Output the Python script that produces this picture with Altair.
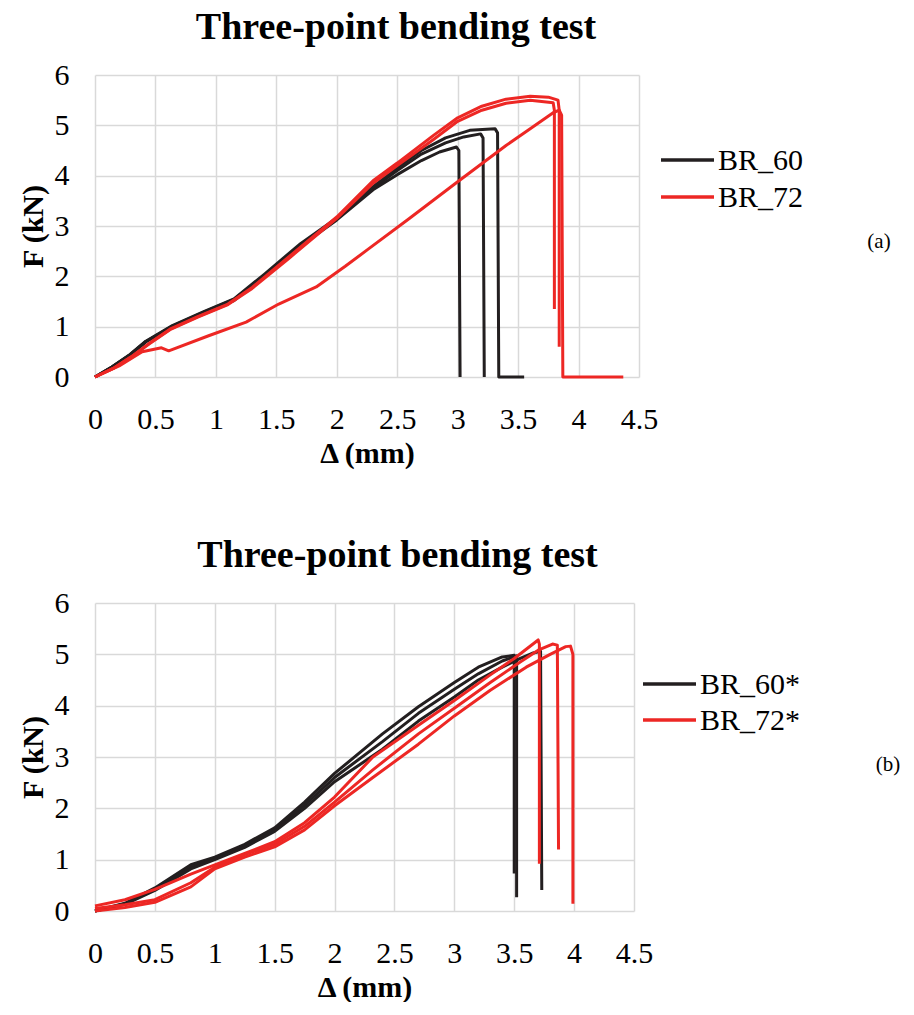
import altair as alt
import pandas as pd

TITLE = "Three-point bending test"
X_TITLE = "Δ (mm)"
Y_TITLE = "F (kN)"
X_TICKS = [0, 0.5, 1, 1.5, 2, 2.5, 3, 3.5, 4, 4.5]
Y_TICKS = [0, 1, 2, 3, 4, 5, 6]
SERIES_A = ["BR_60", "BR_72"]
SERIES_B = ["BR_60*", "BR_72*"]
TAGS = ["(a)", "(b)"]
COLORS = ["#231f20", "#ed2724"]

# ---------------- panel (a) ----------------
A60_1_X = [0, 0.14, 0.28, 0.42, 0.64, 0.9, 1.15, 1.4, 1.7, 2.0, 2.3, 2.5, 2.7, 2.85, 2.99, 3.01, 3.02]
A60_1_Y = [0, 0.2, 0.42, 0.7, 1.0, 1.28, 1.52, 2.0, 2.6, 3.12, 3.72, 4.02, 4.3, 4.47, 4.57, 4.5, 0]
A60_2_X = [0, 0.14, 0.28, 0.42, 0.64, 0.9, 1.15, 1.4, 1.7, 2.0, 2.3, 2.5, 2.7, 2.9, 3.05, 3.19, 3.21, 3.22]
A60_2_Y = [0, 0.2, 0.42, 0.7, 1.01, 1.29, 1.54, 2.02, 2.62, 3.14, 3.75, 4.1, 4.43, 4.65, 4.77, 4.83, 4.75, 0]
A60_3_X = [0, 0.14, 0.28, 0.42, 0.64, 0.9, 1.15, 1.4, 1.7, 2.0, 2.3, 2.5, 2.7, 2.9, 3.1, 3.31, 3.33, 3.34, 3.55]
A60_3_Y = [0, 0.2, 0.43, 0.71, 1.02, 1.3, 1.55, 2.04, 2.65, 3.16, 3.78, 4.15, 4.5, 4.75, 4.9, 4.93, 4.85, 0, 0]
A72_1_X = [0, 0.15, 0.3, 0.45, 0.62, 0.85, 1.1, 1.3, 1.6, 2.0, 2.3, 2.5, 2.8, 3.0, 3.2, 3.4, 3.6, 3.75, 3.83, 3.84, 3.84]
A72_1_Y = [0, 0.17, 0.4, 0.67, 0.95, 1.2, 1.45, 1.78, 2.38, 3.18, 3.9, 4.25, 4.8, 5.15, 5.38, 5.52, 5.58, 5.56, 5.5, 5.3, 0.6]
A72_2_X = [0, 0.15, 0.3, 0.45, 0.62, 0.85, 1.1, 1.3, 1.6, 2.0, 2.3, 2.5, 2.8, 3.0, 3.2, 3.4, 3.6, 3.79, 3.8, 3.8]
A72_2_Y = [0, 0.17, 0.4, 0.66, 0.94, 1.19, 1.44, 1.76, 2.35, 3.15, 3.85, 4.2, 4.72, 5.08, 5.3, 5.44, 5.5, 5.45, 5.3, 1.35]
A72_3_X = [0, 0.2, 0.39, 0.55, 0.61, 0.94, 1.25, 1.52, 1.83, 2.07, 2.26, 2.6, 3.0, 3.4, 3.6, 3.79, 3.84, 3.86, 3.87, 4.37]
A72_3_Y = [0, 0.22, 0.5, 0.58, 0.52, 0.82, 1.09, 1.45, 1.79, 2.2, 2.54, 3.15, 3.88, 4.6, 4.93, 5.25, 5.3, 5.2, 0, 0]

# ---------------- panel (b) ----------------
B60_1_X = [0, 0.25, 0.5, 0.8, 1.0, 1.25, 1.5, 1.75, 2.0, 2.4, 2.7, 3.0, 3.2, 3.4, 3.5, 3.5]
B60_1_Y = [0, 0.15, 0.45, 0.9, 1.05, 1.3, 1.62, 2.12, 2.68, 3.45, 3.98, 4.45, 4.75, 4.95, 4.98, 0.73]
B60_2_X = [0, 0.25, 0.5, 0.8, 1.0, 1.25, 1.5, 1.75, 2.0, 2.4, 2.7, 3.0, 3.2, 3.4, 3.52, 3.52]
B60_2_Y = [0, 0.14, 0.42, 0.86, 1.02, 1.27, 1.58, 2.06, 2.6, 3.3, 3.85, 4.32, 4.62, 4.87, 4.97, 0.27]
B60_3_X = [0, 0.25, 0.5, 0.8, 1.0, 1.25, 1.5, 1.75, 2.0, 2.4, 2.7, 3.0, 3.2, 3.4, 3.55, 3.65, 3.72, 3.73]
B60_3_Y = [0, 0.13, 0.4, 0.82, 1.0, 1.24, 1.55, 2.0, 2.52, 3.15, 3.7, 4.17, 4.5, 4.75, 4.92, 5.02, 5.06, 0.41]
B72_1_X = [0, 0.25, 0.5, 0.8, 1.0, 1.25, 1.5, 1.75, 2.0, 2.32, 2.7, 3.0, 3.3, 3.5, 3.6, 3.7, 3.71, 3.71]
B72_1_Y = [0.1, 0.22, 0.42, 0.72, 0.9, 1.12, 1.35, 1.72, 2.22, 3.0, 3.62, 4.1, 4.6, 4.92, 5.1, 5.28, 5.2, 0.92]
B72_2_X = [0, 0.25, 0.5, 0.8, 1.0, 1.25, 1.5, 1.75, 2.0, 2.32, 2.7, 3.0, 3.3, 3.55, 3.7, 3.82, 3.86, 3.87]
B72_2_Y = [0.05, 0.12, 0.22, 0.55, 0.85, 1.1, 1.3, 1.65, 2.12, 2.75, 3.45, 3.95, 4.45, 4.85, 5.08, 5.2, 5.18, 1.2]
B72_3_X = [0, 0.25, 0.5, 0.8, 1.0, 1.25, 1.5, 1.75, 2.0, 2.32, 2.7, 3.0, 3.3, 3.6, 3.8, 3.93, 3.97, 3.99, 3.99]
B72_3_Y = [0, 0.07, 0.17, 0.47, 0.82, 1.05, 1.25, 1.58, 2.05, 2.6, 3.25, 3.8, 4.3, 4.75, 5.0, 5.15, 5.16, 5.0, 0.14]

FONT = "Liberation Serif"


def make_frame(curves):
    rows = []
    for series, spec, xs, ys in curves:
        for i, (x, y) in enumerate(zip(xs, ys)):
            rows.append({"series": series, "spec": spec, "i": i, "x": x, "y": y})
    return pd.DataFrame(rows)


def panel(df, names, tag, w, h, leg_x, leg_y, leg_gap, tag_x, tag_y, title_dx):
    x_enc = alt.X("x:Q", title=X_TITLE,
                  scale=alt.Scale(domain=[0, 4.5], nice=False, zero=False),
                  axis=alt.Axis(values=X_TICKS, format="~g", labelFlush=False))
    y_enc = alt.Y("y:Q", title=Y_TITLE,
                  scale=alt.Scale(domain=[0, 6], nice=False),
                  axis=alt.Axis(values=Y_TICKS, format="~g", labelFlush=False))
    lines = alt.Chart(df).mark_line(strokeWidth=3, strokeCap="butt", strokeJoin="round").encode(
        x=x_enc, y=y_enc,
        color=alt.Color("series:N", scale=alt.Scale(domain=names, range=COLORS), legend=None),
        detail="spec:N",
        order="i:Q",
    )
    layers = [lines]
    for k, name in enumerate(names):
        ld = pd.DataFrame({"label": [name]})
        yy = leg_y + k * leg_gap
        layers.append(alt.Chart(ld).mark_rule(strokeWidth=3.5, color=COLORS[k]).encode(
            x=alt.value(leg_x), x2=alt.value(leg_x + 53), y=alt.value(yy)))
        layers.append(alt.Chart(ld).mark_text(align="left", baseline="middle", font=FONT,
                                              fontSize=30, color="black").encode(
            text="label:N", x=alt.value(leg_x + 57), y=alt.value(yy + 1)))
    td = pd.DataFrame({"label": [tag]})
    layers.append(alt.Chart(td).mark_text(align="center", baseline="middle", font=FONT,
                                          fontSize=21, color="black").encode(
        text="label:N", x=alt.value(tag_x), y=alt.value(tag_y)))
    return alt.layer(*layers).properties(
        width=w, height=h,
        title=alt.TitleParams(TITLE, font=FONT, fontSize=38, fontWeight="bold",
                              color="black", dx=title_dx, offset=13),
    )


df_a = make_frame([
    ("BR_60", "a60_1", A60_1_X, A60_1_Y),
    ("BR_60", "a60_2", A60_2_X, A60_2_Y),
    ("BR_60", "a60_3", A60_3_X, A60_3_Y),
    ("BR_72", "a72_1", A72_1_X, A72_1_Y),
    ("BR_72", "a72_2", A72_2_X, A72_2_Y),
    ("BR_72", "a72_3", A72_3_X, A72_3_Y),
])
df_b = make_frame([
    ("BR_60*", "b60_1", B60_1_X, B60_1_Y),
    ("BR_60*", "b60_2", B60_2_X, B60_2_Y),
    ("BR_60*", "b60_3", B60_3_X, B60_3_Y),
    ("BR_72*", "b72_1", B72_1_X, B72_1_Y),
    ("BR_72*", "b72_2", B72_2_X, B72_2_Y),
    ("BR_72*", "b72_3", B72_3_X, B72_3_Y),
])

pa = panel(df_a, SERIES_A, TAGS[0], 544, 302, 566, 85, 37, 784, 167, 29)
pb = panel(df_b, SERIES_B, TAGS[1], 539, 308, 548, 81, 36, 793, 162, 33)

chart = alt.vconcat(pa, pb, spacing=69).properties(
    padding={"left": 10, "top": 1, "right": 0, "bottom": 0}
).configure_view(stroke=None).configure_axis(
    labelFont=FONT, labelFontSize=30, labelColor="black",
    titleFont=FONT, titleFontSize=30, titleFontWeight="bold", titleColor="black",
    ticks=False, domain=False, gridColor="#d9d9d9", gridWidth=1.5,
).configure_axisX(titlePadding=4, labelPadding=27).configure_axisY(titlePadding=6, labelPadding=26)

chart.save("out.html", embed_options={"renderer": "svg", "actions": False})
